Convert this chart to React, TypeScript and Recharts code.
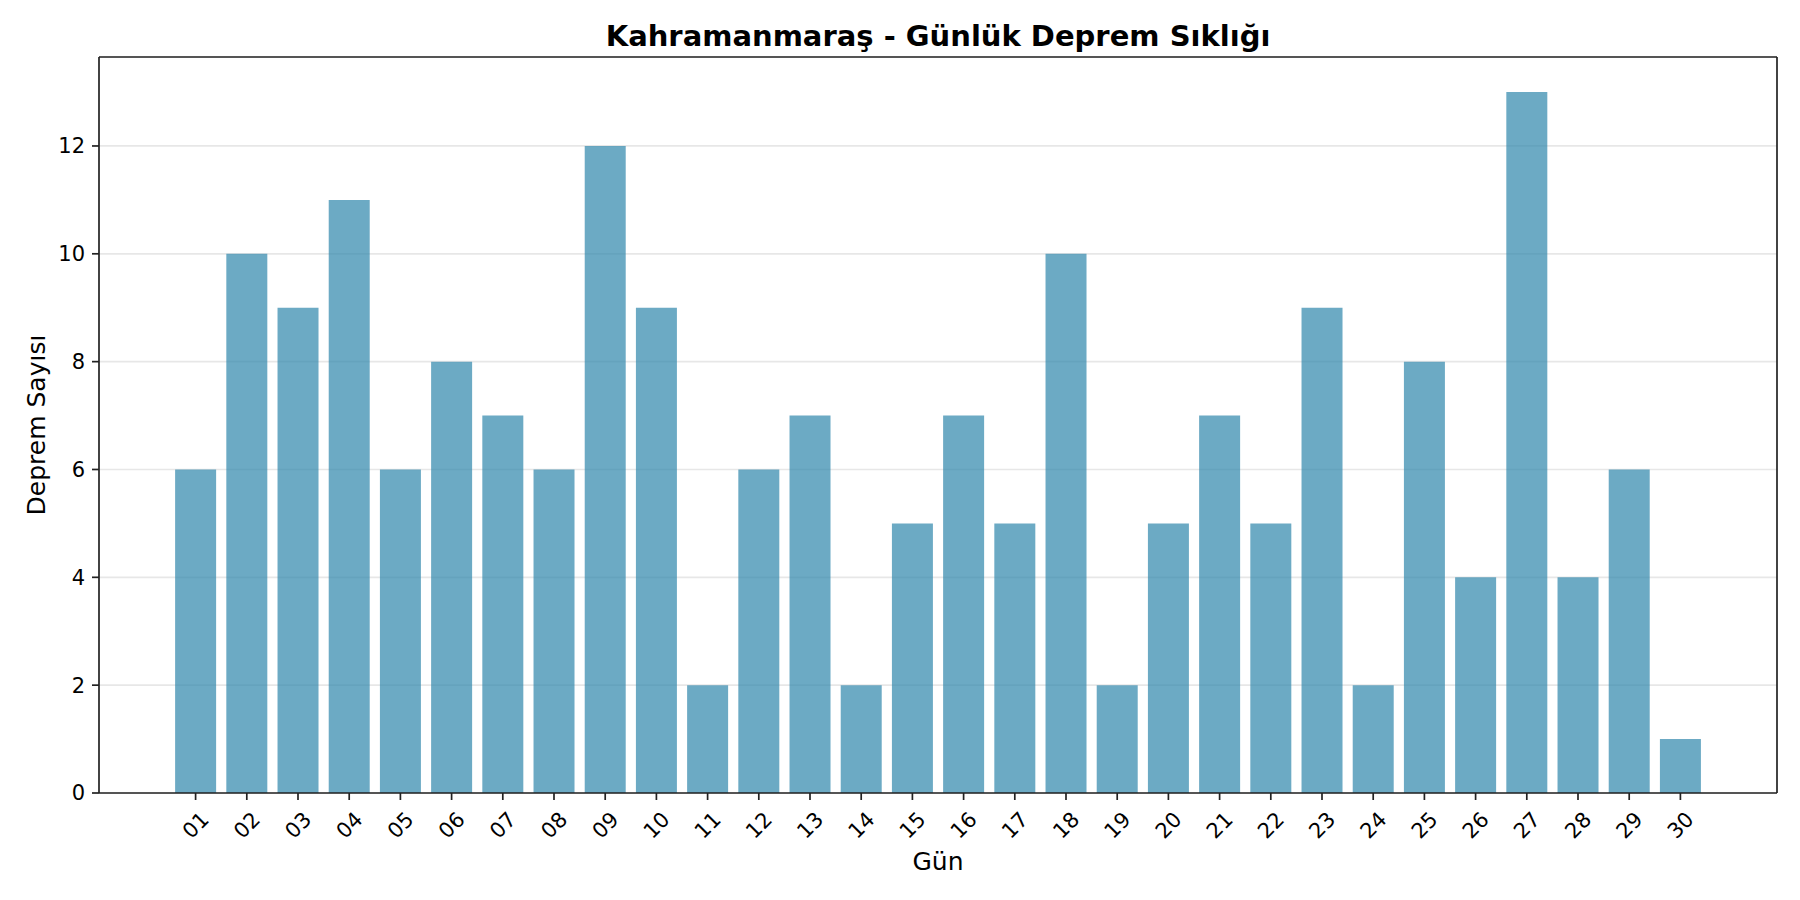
import { BarChart, Bar, XAxis, YAxis, CartesianGrid } from "recharts";

const days = [
  "01", "02", "03", "04", "05", "06", "07", "08", "09", "10",
  "11", "12", "13", "14", "15", "16", "17", "18", "19", "20",
  "21", "22", "23", "24", "25", "26", "27", "28", "29", "30",
];
const counts = [
  6, 10, 9, 11, 6, 8, 7, 6, 12, 9,
  2, 6, 7, 2, 5, 7, 5, 10, 2, 5,
  7, 5, 9, 2, 8, 4, 13, 4, 6, 1,
];
const yTicks = [0, 2, 4, 6, 8, 10, 12];

const title = "Kahramanmaraş - Günlük Deprem Sıklığı";
const xLabel = "Gün";
const yLabel = "Deprem Sayısı";

const FONT = "DejaVu Sans, sans-serif";
const AXIS = "#222";

const data = days.map((d, i) => ({ day: d, count: counts[i] }));

function DayTick(props: any) {
  const { x, y, payload } = props;
  return (
    <g transform={`translate(${x},${y + 23})`}>
      <text
        transform="rotate(-45)"
        textAnchor="middle"
        dy="0.35em"
        fontFamily={FONT}
        fontSize={21}
        fill="#000"
      >
        {payload.value}
      </text>
    </g>
  );
}

export default function App() {
  return (
    <div style={{ position: "absolute", left: 0, top: 0, background: "#fff" }}>
      <div
        style={{
          position: "absolute",
          left: 0,
          width: 1876,
          top: 19,
          textAlign: "center",
          fontFamily: FONT,
          fontWeight: "bold",
          fontSize: 29,
          lineHeight: "34px",
          color: "#000",
        }}
      >
        {title}
      </div>
      <BarChart
        width={1800}
        height={900}
        data={data}
        margin={{ top: 56, right: 22, bottom: 47, left: 39 }}
        barCategoryGap="10%"
      >
        <CartesianGrid vertical={false} stroke="#e7e7e7" strokeWidth={1.7} />
        <XAxis
          dataKey="day"
          height={60}
          padding={{ left: 71, right: 71 }}
          interval={0}
          tickSize={7}
          tickMargin={2}
          tick={<DayTick />}
          axisLine={{ stroke: AXIS, strokeWidth: 1.7 }}
          tickLine={{ stroke: AXIS, strokeWidth: 1.7 }}
          label={{
            content: (p: any) => (
              <text
                x={p.viewBox.x + p.viewBox.width / 2}
                y={870}
                textAnchor="middle"
                fontFamily={FONT}
                fontSize={25}
                fill="#000"
              >
                {xLabel}
              </text>
            ),
          }}
        />
        <XAxis
          xAxisId="top"
          type="number"
          domain={[0, 1]}
          orientation="top"
          height={1}
          tick={false}
          tickLine={false}
          axisLine={{ stroke: AXIS, strokeWidth: 1.7 }}
        />
        <YAxis
          width={60}
          domain={[0, 13.65]}
          ticks={yTicks}
          allowDataOverflow
          tickSize={7}
          tickMargin={7}
          tick={{ fontFamily: FONT, fontSize: 21, fill: "#000" }}
          axisLine={{ stroke: AXIS, strokeWidth: 1.7 }}
          tickLine={{ stroke: AXIS, strokeWidth: 1.7 }}
          label={{
            content: (p: any) => {
              const cx = 36;
              const cy = p.viewBox.y + p.viewBox.height / 2;
              return (
                <text
                  x={cx}
                  y={cy}
                  transform={`rotate(-90, ${cx}, ${cy})`}
                  textAnchor="middle"
                  dominantBaseline="central"
                  fontFamily={FONT}
                  fontSize={25}
                  fill="#000"
                >
                  {yLabel}
                </text>
              );
            },
          }}
        />
        <YAxis
          yAxisId="right"
          type="number"
          orientation="right"
          width={1}
          domain={[0, 1]}
          tick={false}
          tickLine={false}
          axisLine={{ stroke: AXIS, strokeWidth: 1.7 }}
        />
        <Bar
          dataKey="count"
          fill="#2E86AB"
          fillOpacity={0.7}
          isAnimationActive={false}
        />
      </BarChart>
    </div>
  );
}
